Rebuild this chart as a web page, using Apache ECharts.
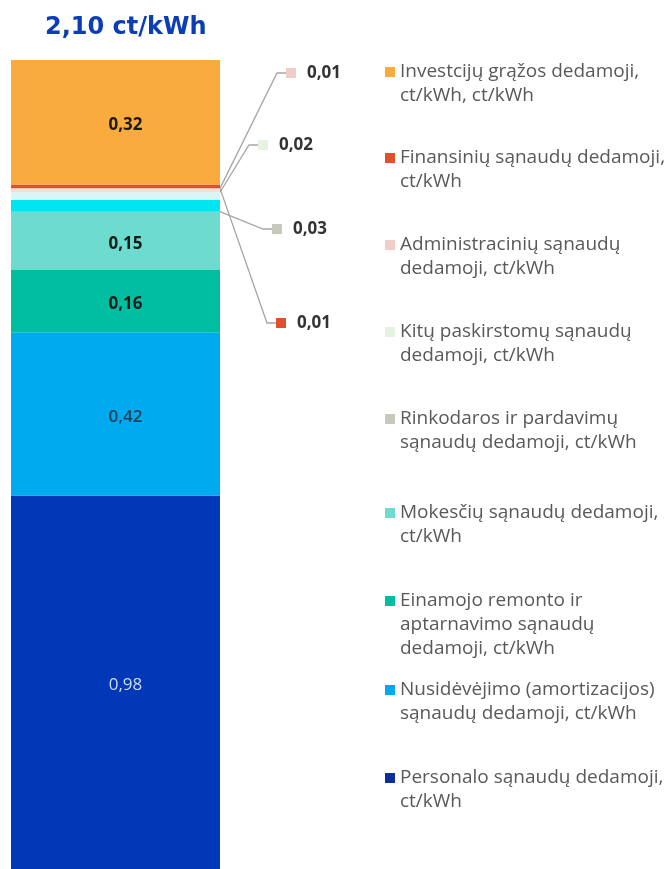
<!DOCTYPE html>
<html>
<head>
<meta charset="utf-8">
<script src="https://cdn.jsdelivr.net/npm/echarts@6/dist/echarts.min.js"></script>
<style>
  html, body { margin: 0; padding: 0; background: #fff; }
  #chart { width: 668px; height: 869px; }
</style>
</head>
<body>
<div id="chart"></div>
<script>
// stack order, bottom to top
let names = [
  'Personalo sąnaudų dedamoji,\nct/kWh',
  'Nusidėvėjimo (amortizacijos)\nsąnaudų dedamoji, ct/kWh',
  'Einamojo remonto ir\naptarnavimo sąnaudų\ndedamoji, ct/kWh',
  'Mokesčių sąnaudų dedamoji,\nct/kWh',
  'Rinkodaros ir pardavimų\nsąnaudų dedamoji, ct/kWh',
  'Kitų paskirstomų sąnaudų\ndedamoji, ct/kWh',
  'Administracinių sąnaudų\ndedamoji, ct/kWh',
  'Finansinių sąnaudų dedamoji,\nct/kWh',
  'Investcijų grąžos dedamoji,\nct/kWh, ct/kWh'
];
let values    = [0.98, 0.42, 0.16, 0.15, 0.03, 0.02, 0.01, 0.01, 0.32];
let barColors = ['#0038b8', '#00aaee', '#00bfa0', '#6ddccf', '#00e6f0', '#d6f7f7', '#f6dcd6', '#e0502a', '#f9ab3e'];
let keyColors = ['#0a2f9a', '#00aaee', '#00bfa0', '#6ddccf', '#c6c9bc', '#e4f2df', '#f0cdc6', '#e0502a', '#f9ab3e'];
let total = 2.10;
let title = '2,10 ct/kWh';

// label look for the big segments
let labelColors = ['#d0dcf0', '#263f52', '#1a1a1a', '#1a1a1a', null, null, null, null, '#1a1a1a'];
let labelWeight = ['normal', 600, 'bold', 'bold', null, null, null, null, 'bold'];

// call-out labels for the thin segments: [x, y]
let callouts = { 4: [260, 229], 5: [246, 145], 6: [274, 73], 7: [264, 323] };

// first line centre of each legend item
let legendY = [778, 690, 601, 513, 419, 332, 245, 158, 72];

function fmt(v) {
  return v.toFixed(2).replace('.', ',');
}

let chart = echarts.init(document.getElementById('chart'));

let series = names.map(function(name, i) {
  let s = {
    name: name,
    type: 'bar',
    stack: 'total',
    barWidth: '100%',
    data: [values[i]],
    itemStyle: { color: barColors[i] }
  };
  if (callouts[i]) {
    s.label = {
      show: true,
      position: 'right',
      padding: [0, 0, 0, 12],
      formatter: '{sq|}{v|' + fmt(values[i]) + '}',
      rich: {
        sq: { width: 10, height: 10, backgroundColor: keyColors[i] },
        v: { fontFamily: 'Open Sans', fontSize: 17, fontWeight: 'bold', color: '#333', padding: [0, 0, 0, 11] }
      }
    };
    s.labelLayout = { x: callouts[i][0], y: callouts[i][1], align: 'left', verticalAlign: 'middle' };
    s.labelLine = { show: true, length2: 9, lineStyle: { color: '#a6a6a6', width: 1.3 } };
  } else {
    s.label = {
      show: true,
      position: 'inside',
      offset: [10, 3],
      formatter: fmt(values[i]),
      fontFamily: 'Open Sans',
      fontSize: 17,
      fontWeight: labelWeight[i],
      color: labelColors[i]
    };
  }
  return s;
});

// legend text is centred on its key, so pad blank lines on top
// to bring the first line level with the key
let legends = names.map(function(name, i) {
  let n = name.split('\n').length;
  return {
    left: 385,
    top: legendY[i] - (2 * n - 1) * 12,
    padding: 0,
    orient: 'vertical',
    itemWidth: 10,
    itemHeight: 10,
    itemGap: 0,
    icon: 'rect',
    selectedMode: false,
    formatter: function(t) {
      return new Array(n).join('\n') + t;
    },
    textStyle: {
      fontFamily: 'Open Sans',
      fontSize: 19,
      lineHeight: 24,
      color: '#595959'
    },
    data: [{ name: name, itemStyle: { color: keyColors[i] } }]
  };
});

let option = {
  animation: false,
  title: {
    text: title,
    left: 40,
    top: 11,
    textStyle: { fontFamily: 'DejaVu Sans', fontSize: 24, fontWeight: 'bold', color: '#0b3db5' }
  },
  legend: legends,
  // bar runs past the bottom edge, so start the axis a little above zero
  grid: { left: 11, top: 60, width: 209, bottom: 0 },
  xAxis: { type: 'category', data: [''], show: false },
  yAxis: { type: 'value', min: 0.02, max: total, show: false },
  series: series
};

chart.setOption(option);
</script>
</body>
</html>
